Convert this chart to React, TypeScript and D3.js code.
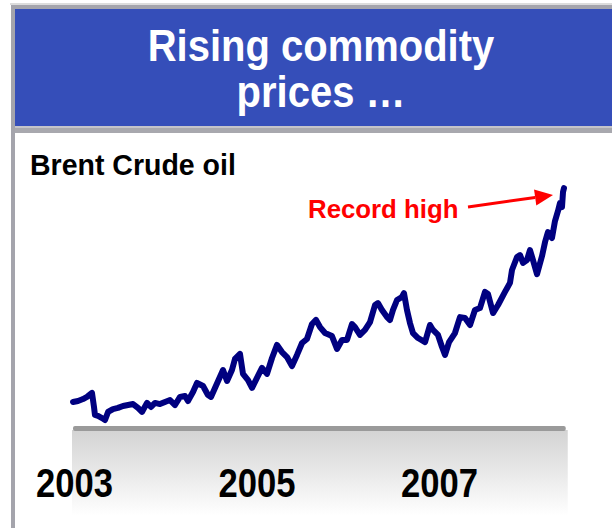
import React from "react";
import * as d3 from "d3";

// Brent crude (approx. $/bbl)
const years = [
  2003.0, 2003.055, 2003.11, 2003.153, 2003.208, 2003.23, 2003.241, 2003.274, 2003.318, 2003.351,
  2003.384, 2003.438, 2003.493, 2003.548, 2003.603, 2003.658, 2003.712, 2003.756, 2003.811, 2003.855,
  2003.899, 2003.953, 2004.008, 2004.063, 2004.118, 2004.173, 2004.227, 2004.26, 2004.315, 2004.359,
  2004.425, 2004.479, 2004.512, 2004.556, 2004.644, 2004.688, 2004.742, 2004.775, 2004.83, 2004.863,
  2004.918, 2004.962, 2005.016, 2005.071, 2005.126, 2005.181, 2005.236, 2005.29, 2005.345, 2005.4,
  2005.455, 2005.51, 2005.564, 2005.619, 2005.663, 2005.707, 2005.762, 2005.838, 2005.893, 2005.948,
  2006.003, 2006.058, 2006.09, 2006.145, 2006.2, 2006.255, 2006.31, 2006.342, 2006.386, 2006.441,
  2006.474, 2006.507, 2006.551, 2006.605, 2006.627, 2006.66, 2006.693, 2006.726, 2006.781, 2006.858,
  2006.912, 2006.945, 2007.0, 2007.044, 2007.077, 2007.121, 2007.186, 2007.241, 2007.296, 2007.351,
  2007.405, 2007.46, 2007.515, 2007.548, 2007.603, 2007.658, 2007.734, 2007.789, 2007.811, 2007.866,
  2007.899, 2007.932, 2007.975, 2008.008, 2008.041, 2008.085, 2008.14, 2008.173, 2008.205, 2008.249,
  2008.282, 2008.315, 2008.337, 2008.359, 2008.37, 2008.381,
];
const prices = [
  34.4, 34.9, 35.9, 37.0, 39.1, 31.8, 27.6, 27.1, 26.0, 25.0,
  29.2, 30.7, 31.3, 32.3, 32.8, 33.3, 31.3, 29.2, 33.9, 31.8,
  33.9, 33.3, 34.4, 35.4, 32.8, 37.0, 37.5, 34.9, 39.6, 44.3,
  42.7, 38.0, 37.0, 41.7, 51.0, 45.3, 51.0, 56.8, 59.4, 49.0,
  45.8, 41.7, 46.9, 52.1, 49.0, 57.3, 64.1, 60.4, 57.8, 53.1,
  58.9, 65.1, 67.2, 75.0, 77.1, 73.4, 70.3, 68.7, 62.0, 66.7,
  66.7, 75.0, 73.4, 69.3, 71.9, 76.0, 84.9, 85.9, 82.3, 78.6,
  77.1, 82.3, 87.5, 89.1, 91.1, 82.3, 75.5, 70.3, 67.7, 65.6,
  74.5, 71.9, 69.3, 63.0, 58.9, 65.6, 70.3, 78.6, 78.1, 74.5,
  82.3, 83.3, 91.7, 90.6, 80.7, 84.9, 91.7, 96.4, 103.1, 109.9,
  110.9, 106.8, 108.3, 113.5, 108.3, 101.0, 110.4, 117.7, 122.9, 119.8,
  128.6, 133.9, 138.0, 135.9, 143.7, 145.8,
];
const tickYears = [2003, 2005, 2007];
const titleLines = ["Rising commodity", "prices \u2026"];
const subtitle = "Brent Crude oil";
const annotation = "Record high";

const FONT = "'Liberation Sans', Arial, Helvetica, sans-serif";

export default function App() {
  const x = d3.scaleLinear().domain([2003, 2008.4]).range([73, 565.75]);
  const y = d3.scaleLinear().domain([0, 150]).range([468, 180]);
  const data = years.map((yr, i) => ({ yr, v: prices[i] }));
  const line = d3
    .line<{ yr: number; v: number }>()
    .x((d) => x(d.yr))
    .y((d) => y(d.v));

  const [x0, x1] = x.range();
  // arrow geometry
  const tail = [468, 207];
  const tip = [553, 195];
  const dx = tip[0] - tail[0];
  const dy = tip[1] - tail[1];
  const len = Math.hypot(dx, dy);
  const ux = dx / len;
  const uy = dy / len;
  const hl = 18;
  const hw = 8;
  const bx = tip[0] - ux * hl;
  const by = tip[1] - uy * hl;
  const head = `${tip[0]},${tip[1]} ${bx - uy * hw},${by + ux * hw} ${bx + uy * hw},${by - ux * hw}`;

  return (
    <svg
      width={612}
      height={528}
      style={{ position: "absolute", left: 0, top: 0, background: "#fff" }}
      fontFamily={FONT}
    >
      <defs>
        <linearGradient id="axisGrad" x1="0" y1="0" x2="0" y2="1">
          <stop offset="0" stopColor="#d3d3d3" />
          <stop offset="1" stopColor="#ffffff" />
        </linearGradient>
      </defs>
      {/* frame */}
      <rect x={10} y={3} width={602} height={2} fill="#dcdcdc" />
      <rect x={11} y={5} width={601} height={4} fill="#a4a4ac" />
      <rect x={11} y={5} width={4} height={523} fill="#a4a4ac" />
      <rect x={15} y={9} width={597} height={117} fill="#354eb9" />
      <rect x={15} y={126} width={597} height={7} fill="#a8a8ae" />
      <rect x={15} y={126} width={597} height={2} fill="#c4c4ca" />
      {/* title */}
      {titleLines.map((t, i) => (
        <text
          key={i}
          transform={`translate(321,${61 + i * 46}) scale(1,1.1)`}
          textAnchor="middle"
          fill="#fff"
          fontWeight="bold"
          fontSize={40}
        >
          {t}
        </text>
      ))}
      <text
        transform="translate(30,175) scale(1,1.05)"
        fontWeight="bold"
        fontSize={28.5}
        fill="#000"
      >
        {subtitle}
      </text>
      {/* axis band */}
      <rect x={x0 - 1} y={430} width={x1 - x0 + 3} height={86} fill="url(#axisGrad)" />
      <rect x={x0} y={426} width={x1 - x0} height={5} rx={2} fill="#9a9a9a" />
      {tickYears.map((t) => (
        <text
          key={t}
          transform={`translate(${x(t) + 1.5},497) scale(1,1.08)`}
          textAnchor="middle"
          fontWeight="bold"
          fontSize={37}
          textLength={77}
          lengthAdjust="spacingAndGlyphs"
          fill="#000"
        >
          {t}
        </text>
      ))}
      {/* series */}
      <path
        d={line(data) || ""}
        fill="none"
        stroke="#000080"
        strokeWidth={6}
        strokeLinejoin="round"
        strokeLinecap="round"
      />
      {/* annotation */}
      <text x={308} y={218} fill="#ff0000" fontWeight="bold" fontSize={25.8}>
        {annotation}
      </text>
      <line x1={tail[0]} y1={tail[1]} x2={bx} y2={by} stroke="#ff0000" strokeWidth={3} />
      <polygon points={head} fill="#ff0000" />
    </svg>
  );
}
